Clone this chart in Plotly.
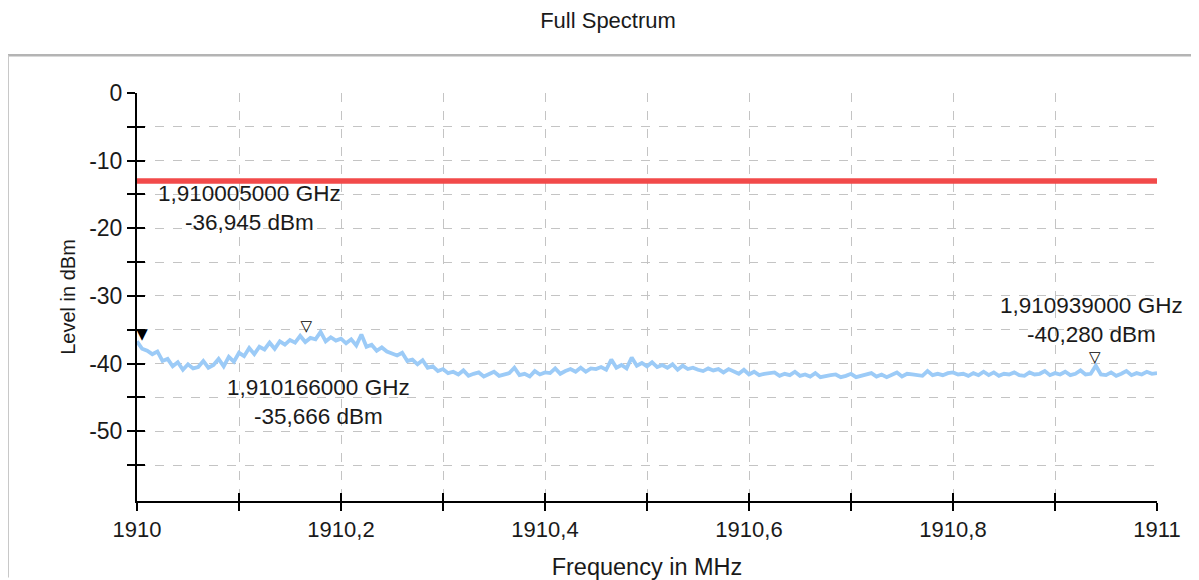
import plotly.graph_objects as go

# ---------------- data ----------------
freq_start = 1910.0
freq_step = 0.005
level_dbm = [
    -36.7, -37.8, -38.1, -38.6, -38.2, -39.6, -39.3, -40.4, -39.8, -40.9,
    -40.1, -40.7, -40.5, -39.6, -40.6, -40.2, -39.3, -40.4, -39.0, -39.7,
    -38.4, -38.9, -37.7, -38.6, -37.5, -37.9, -36.9, -37.8, -36.7, -37.2,
    -36.5, -36.9, -35.9, -36.8, -36.2, -36.4, -35.3, -36.7, -36.1, -36.6,
    -36.3, -37.0, -36.4, -37.3, -35.7, -37.5, -37.2, -38.1, -37.6, -38.2,
    -38.5, -38.8, -38.4, -39.6, -39.4, -40.1, -39.5, -40.6, -40.4, -41.1,
    -40.8, -41.4, -41.2, -41.6, -41.0, -41.8, -41.5, -41.3, -41.9, -41.5,
    -41.2, -41.8, -41.6, -41.4, -40.6, -41.7, -41.5, -41.9, -41.1, -41.6,
    -41.3, -41.4, -40.7, -41.5, -41.1, -40.8, -41.2, -40.6, -41.2, -40.7,
    -40.8, -40.5, -40.9, -39.4, -40.6, -40.2, -40.7, -39.1, -40.3, -39.9,
    -40.4, -39.8, -40.5, -40.2, -40.6, -40.1, -40.9, -40.3, -40.8, -40.6,
    -40.9, -41.1, -40.7, -41.0, -40.8, -41.3, -40.8, -41.2, -41.5, -40.9,
    -41.6, -41.2, -41.7, -41.5, -41.4, -41.3, -41.8, -41.5, -41.7, -41.2,
    -41.8, -41.6, -41.9, -41.4, -42.0, -41.8, -41.7, -41.6, -42.0, -41.8,
    -41.5, -42.0, -41.8, -41.7, -41.4, -41.9, -41.6, -42.0, -41.6, -41.3,
    -41.9, -41.5, -41.6, -41.7, -41.8, -41.1, -41.7, -41.5, -41.7, -41.4,
    -41.3, -41.6, -41.5, -41.8, -41.4, -41.7, -41.2, -41.7, -41.3, -41.8,
    -41.5, -41.6, -41.3, -41.7, -41.8, -41.3, -41.6, -41.5, -41.1, -41.7,
    -41.4, -41.6, -41.2, -41.7, -41.5, -41.0, -41.6, -41.5, -40.3, -41.6,
    -41.7, -41.3, -41.8, -41.5, -41.1, -41.7, -41.4, -41.6, -41.2, -41.5,
    -41.4,
]
freq_mhz = [round(freq_start + i * freq_step, 3) for i in range(len(level_dbm))]

limit_dbm = -13
marker_freq_ghz = [1.910005, 1.910166, 1.910939]
marker_level_dbm = [-36.945, -35.666, -40.280]
marker_symbols = ["▼", "▽", "▽"]

x_tick_vals = [1910.0, 1910.1, 1910.2, 1910.3, 1910.4, 1910.5,
               1910.6, 1910.7, 1910.8, 1910.9, 1911.0]
x_tick_text = ["1910", "", "1910,2", "", "1910,4", "",
               "1910,6", "", "1910,8", "", "1911"]
y_tick_vals = [0, -5, -10, -15, -20, -25, -30, -35, -40, -45, -50, -55]
y_tick_text = ["0", "", "-10", "", "-20", "", "-30", "", "-40", "", "-50", ""]

# label positions (layout only)
label_pos = [(1910.1098, -17.0), (1910.178, -45.66), (1910.936, -33.6)]

FONT = "Liberation Sans, Arial, sans-serif"
TXT = "#1a1a1a"
X_RANGE = [1910.0, 1911.0]
Y_RANGE = [-60.3, 0.0]

fig = go.Figure()

# measured spectrum
fig.add_trace(go.Scatter(
    x=freq_mhz, y=level_dbm, mode="lines",
    line=dict(color="#9ccbf7", width=3.8),
    hoverinfo="skip", showlegend=False,
))

# limit line
fig.add_trace(go.Scatter(
    x=X_RANGE, y=[limit_dbm, limit_dbm], mode="lines",
    line=dict(color="#f24a4a", width=5.5),
    hoverinfo="skip", showlegend=False,
))

# marker glyphs
marker_freq_mhz = [f * 1000 for f in marker_freq_ghz]
fig.add_trace(go.Scatter(
    x=marker_freq_mhz, y=marker_level_dbm, mode="text",
    text=marker_symbols, textposition="top center",
    textfont=dict(family="DejaVu Sans", size=15, color="black"),
    hoverinfo="skip", showlegend=False,
))

# invisible trace for overlay axes (inside ticks)
fig.add_trace(go.Scatter(
    x=[X_RANGE[0]], y=[limit_dbm], mode="markers",
    marker=dict(opacity=0), xaxis="x2", yaxis="y2",
    hoverinfo="skip", showlegend=False,
))

def fmt(v, nd):
    return f"{v:.{nd}f}".replace(".", ",")

for (lx, ly), f, lv in zip(label_pos, marker_freq_ghz, marker_level_dbm):
    fig.add_annotation(
        x=lx, y=ly, xref="x", yref="y",
        text=f"{fmt(f, 9)} GHz<br>{fmt(lv, 3)} dBm",
        showarrow=False, align="center",
        font=dict(family=FONT, size=22.5, color=TXT),
    )

grid = dict(showgrid=True, gridcolor="#c4c4c4", griddash="dash", gridwidth=1)

# the page body adds an 8 px offset, margins compensate
fig.update_layout(
    width=1199, height=580,
    margin=dict(l=129, r=50, t=85, b=85),
    paper_bgcolor="white", plot_bgcolor="white",
    title=dict(text="Full Spectrum", x=(608 - 8) / 1199, xanchor="center",
               y=1 - 12 / 580, yanchor="middle",
               font=dict(family=FONT, size=22, color=TXT)),
    xaxis=dict(range=X_RANGE, tickvals=x_tick_vals, ticktext=x_tick_text,
               ticks="outside", ticklen=8, tickwidth=1.5, tickcolor="black",
               showline=True, linecolor="black", linewidth=2,
               zeroline=False, tickfont=dict(family=FONT, size=22, color=TXT),
               title=dict(text="Frequency in MHz", standoff=17,
                          font=dict(family=FONT, size=23.5, color=TXT)),
               **grid),
    yaxis=dict(range=Y_RANGE, tickvals=y_tick_vals, ticktext=y_tick_text,
               ticks="outside", ticklen=8, tickwidth=1.5, tickcolor="black",
               showline=True, linecolor="black", linewidth=2,
               zeroline=False, tickfont=dict(family=FONT, size=23, color=TXT),
               title=dict(text="Level in dBm", standoff=8,
                          font=dict(family=FONT, size=20, color=TXT)),
               **grid),
    xaxis2=dict(overlaying="x", matches="x", range=X_RANGE, tickvals=x_tick_vals,
                ticks="inside", ticklen=8, tickwidth=1.5, tickcolor="black",
                showticklabels=False, showgrid=False, zeroline=False, showline=False,
                side="bottom"),
    yaxis2=dict(overlaying="y", matches="y", range=Y_RANGE, tickvals=y_tick_vals,
                ticks="inside", ticklen=8, tickwidth=1.5, tickcolor="black",
                showticklabels=False, showgrid=False, zeroline=False, showline=False,
                side="left"),
    showlegend=False,
)

# panel frame (decoration)
fx = (8 - 137) / 1020
fy_top = (503 - 55) / 410
fig.add_shape(type="line", xref="paper", yref="paper",
              x0=fx, x1=(1199 - 137) / 1020, y0=fy_top, y1=fy_top,
              line=dict(color="#b4b4b4", width=2.5))
fig.add_shape(type="line", xref="paper", yref="paper",
              x0=fx, x1=fx, y0=fy_top, y1=(503 - 580) / 410,
              line=dict(color="#c8c8c8", width=2))

fig.write_html("out.html")
